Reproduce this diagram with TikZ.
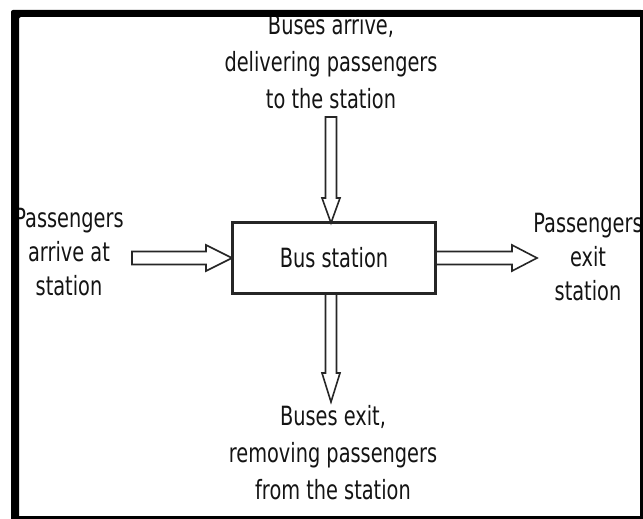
\documentclass[tikz,border=0pt]{standalone}
\usepackage{fontspec}
\usetikzlibrary{calc}
\newfontfamily\lblfont[FakeStretch=0.73]{DejaVu Sans}
\begin{document}
\begin{tikzpicture}[x=1pt,y=-1pt,
  lbl/.style={font=\lblfont\fontsize{26.5}{37}\selectfont, align=center, inner sep=0pt, text=black!92},
  sidelbl/.style={font=\lblfont\fontsize{26.5}{34}\selectfont, align=center, inner sep=0pt, text=black!92},
  hollow/.style={draw=black!85, line width=1.6pt, fill=white, line join=miter},
  stationbox/.style={draw=black!85, line width=2pt, fill=white, minimum width=202pt, minimum height=70pt, inner sep=0pt, font=\lblfont\fontsize{26.5}{30}\selectfont, text=black!92}
]
\useasboundingbox (0,0) rectangle (643,519);
\fill[white] (0,0) rectangle (643,519);

% nodes
\node[stationbox] (box) at (334,258) {Bus station};
\node[lbl] (top) at (331,62) {Buses arrive,\\delivering passengers\\to the station};
\node[lbl] (bot) at (333,453) {Buses exit,\\removing passengers\\from the station};
\node[sidelbl] (left) at (69,252) {Passengers\\arrive at\\station};
\node[sidelbl] (right) at (588,257) {Passengers\\exit\\station};

% anchor coordinates of the arrows
\coordinate (la) at (132,258);
\coordinate (ra) at (box.east);
\coordinate (rt) at (537,258);
\coordinate (ta) at (331,117);
\coordinate (tt) at (331,223);
\coordinate (ba) at (331,293);
\coordinate (bt) at (331,402);

% left arrow
\draw[hollow] ($(la)+(0,-6.5)$) -- ($(box.west)+(-26,-6.5)$) -- ($(box.west)+(-26,-13)$) -- (box.west)
  -- ($(box.west)+(-26,13)$) -- ($(box.west)+(-26,6.5)$) -- ($(la)+(0,6.5)$) -- cycle;
% right arrow
\draw[hollow] ($(ra)+(0,-6.5)$) -- ($(rt)+(-25,-6.5)$) -- ($(rt)+(-25,-13)$) -- (rt)
  -- ($(rt)+(-25,13)$) -- ($(rt)+(-25,6.5)$) -- ($(ra)+(0,6.5)$) -- cycle;
% top arrow
\draw[hollow] ($(ta)+(-5.5,0)$) -- ($(tt)+(-5.5,-25)$) -- ($(tt)+(-9,-25)$) -- (tt)
  -- ($(tt)+(9,-25)$) -- ($(tt)+(5.5,-25)$) -- ($(ta)+(5.5,0)$) -- cycle;
% bottom arrow
\draw[hollow] ($(ba)+(-5.5,0)$) -- ($(bt)+(-5.5,-29)$) -- ($(bt)+(-9,-29)$) -- (bt)
  -- ($(bt)+(9,-29)$) -- ($(bt)+(5.5,-29)$) -- ($(ba)+(5.5,0)$) -- cycle;
\draw[draw=black!85, line width=2pt] (box.south west) rectangle (box.north east);

% frame (drawn over the texts, which it cuts)
\fill[black, rounded corners=2pt] (11,519) -- (11,10) -- (643,10) -- (643,17) -- (19,17) -- (19,519) -- cycle;
\fill[black] (640,10) rectangle (643,519);
\fill[black] (11,516) rectangle (643,519);
\end{tikzpicture}
\end{document}
